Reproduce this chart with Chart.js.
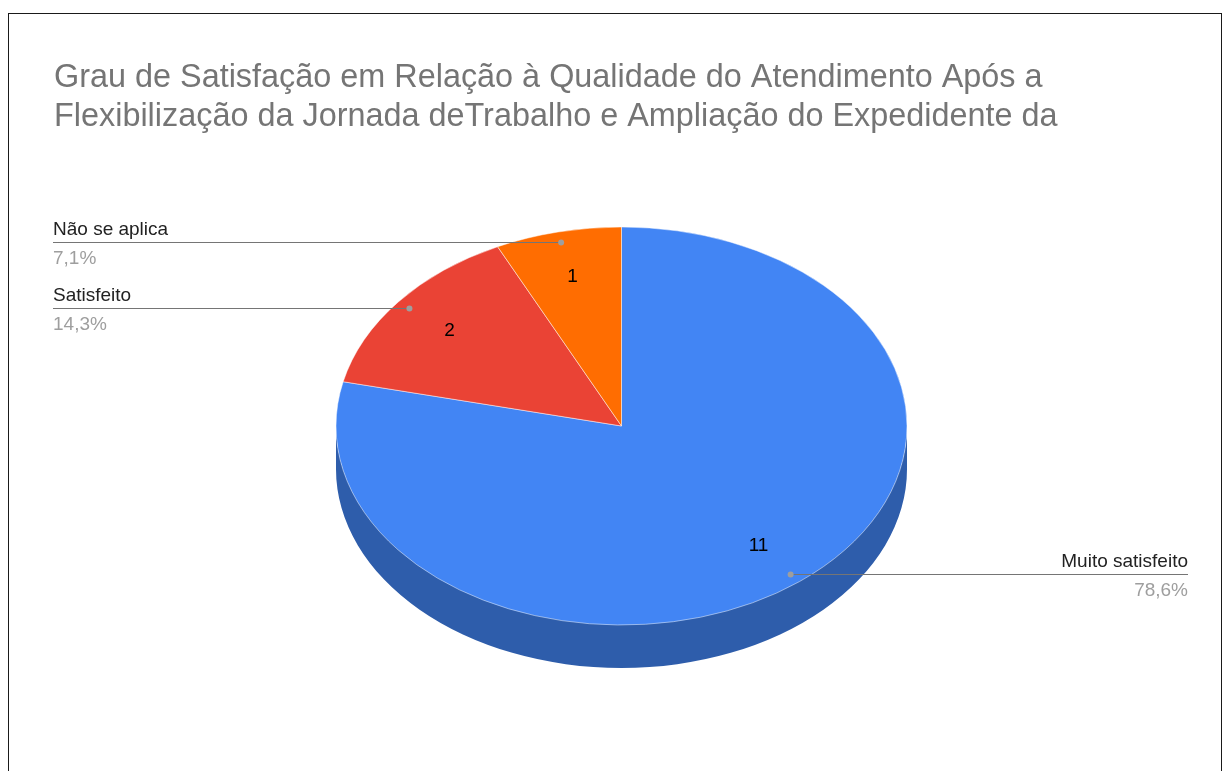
<!DOCTYPE html>
<html lang="pt-BR">
<head>
<meta charset="UTF-8">
<title>Grau de Satisfação</title>
<script src="https://cdn.jsdelivr.net/npm/chart.js"></script>
<style>
    html, body {
        margin: 0;
        padding: 0;
        background: #ffffff;
        overflow: hidden;
    }
    .chart-box {
        position: absolute;
        left: 0;
        top: 0;
        width: 1223px;
        height: 771px;
    }
    .frame {
        position: absolute;
        left: 8px;
        top: 13px;
        width: 1214px;
        height: 800px;
        border: 1px solid #1a1a1a;
        box-sizing: border-box;
        pointer-events: none;
    }
</style>
</head>
<body>
<div class="chart-box"><canvas id="pie"></canvas></div>
<div class="frame"></div>

<script>
const titleLines = [
    'Grau de Satisfação em Relação à Qualidade do Atendimento Após a',
    'Flexibilização da Jornada deTrabalho e Ampliação do Expedidente da'
];
const categories = ['Muito satisfeito', 'Satisfeito', 'Não se aplica'];
const counts = [11, 2, 1];
const sliceColors = ['#4285F4', '#EA4335', '#FF6D01'];

const FONT = '"Liberation Sans", Arial, sans-serif';
// where the squashed pie sits on the page
const pie = { cx: 621.5, cy: 426, rx: 285.5, ry: 199, depth: 43 };

function shade(hex, f) {
    const n = parseInt(hex.slice(1), 16);
    const r = Math.round(((n >> 16) & 255) * f);
    const g = Math.round(((n >> 8) & 255) * f);
    const b = Math.round((n & 255) * f);
    return `rgb(${r}, ${g}, ${b})`;
}

const pie3d = {
    id: 'pie3d',
    beforeDatasetsDraw(chart) {
        const ctx = chart.ctx;
        const arcs = chart.getDatasetMeta(0).data;

        // outer wall, only the part facing the viewer (angles 0..PI)
        arcs.forEach((arc, i) => {
            const { startAngle, endAngle } = arc.getProps(['startAngle', 'endAngle'], true);
            for (let k = -1; k <= 1; k++) {
                const lo = Math.max(startAngle, 2 * Math.PI * k);
                const hi = Math.min(endAngle, 2 * Math.PI * k + Math.PI);
                if (hi <= lo) continue;
                ctx.beginPath();
                ctx.ellipse(pie.cx, pie.cy - 1, pie.rx, pie.ry, 0, lo, hi);
                ctx.ellipse(pie.cx, pie.cy + pie.depth, pie.rx, pie.ry, 0, hi, lo, true);
                ctx.closePath();
                ctx.fillStyle = shade(sliceColors[i], 0.7);
                ctx.fill();
            }
        });

        // squash the circle Chart.js laid out into the top face
        const { x, y, outerRadius } = arcs[0].getProps(['x', 'y', 'outerRadius'], true);
        ctx.save();
        ctx.translate(pie.cx, pie.cy);
        ctx.scale(pie.rx / outerRadius, pie.ry / outerRadius);
        ctx.translate(-x, -y);
    },
    afterDatasetsDraw(chart) {
        chart.ctx.restore();
    },
    afterDraw(chart) {
        const ctx = chart.ctx;
        const arcs = chart.getDatasetMeta(0).data;
        const total = counts.reduce((a, b) => a + b, 0);

        ctx.save();
        arcs.forEach((arc, i) => {
            const { startAngle, endAngle } = arc.getProps(['startAngle', 'endAngle'], true);
            const mid = (startAngle + endAngle) / 2;
            const c = Math.cos(mid), s = Math.sin(mid);

            // count inside the slice
            ctx.font = `19px ${FONT}`;
            ctx.fillStyle = '#000000';
            ctx.textAlign = 'center';
            ctx.textBaseline = 'middle';
            ctx.fillText(String(counts[i]), pie.cx + pie.rx * 0.77 * c, pie.cy + pie.ry * 0.77 * s);

            // leader line + label
            const dx = pie.cx + pie.rx * 0.95 * c;
            const dy = Math.round(pie.cy + pie.ry * 0.95 * s) + 0.5;
            const left = c < 0;
            const tx = left ? 53 : 1188;

            ctx.strokeStyle = '#757575';
            ctx.lineWidth = 1;
            ctx.beginPath();
            ctx.moveTo(tx, dy);
            ctx.lineTo(dx, dy);
            ctx.stroke();

            ctx.fillStyle = '#9e9e9e';
            ctx.beginPath();
            ctx.arc(dx, dy, 3, 0, Math.PI * 2);
            ctx.fill();

            const pct = (counts[i] / total * 100).toFixed(1).replace('.', ',') + '%';
            ctx.textAlign = left ? 'left' : 'right';
            ctx.textBaseline = 'alphabetic';
            ctx.fillStyle = '#222222';
            ctx.fillText(categories[i], tx, dy - 8);
            ctx.fillStyle = '#9e9e9e';
            ctx.fillText(pct, tx, dy + 21);
        });
        ctx.restore();
    }
};

new Chart(document.getElementById('pie').getContext('2d'), {
    type: 'pie',
    data: {
        labels: categories,
        datasets: [{
            data: counts,
            backgroundColor: sliceColors,
            borderColor: '#ffffff',
            borderWidth: 0.6,
            clip: false
        }]
    },
    options: {
        responsive: true,
        maintainAspectRatio: false,
        animation: false,
        events: [],
        layout: { padding: { left: 54, right: 20, top: 0, bottom: 20 } },
        plugins: {
            legend: { display: false },
            tooltip: { enabled: false },
            title: {
                display: true,
                text: titleLines,
                align: 'start',
                color: '#757575',
                font: { family: FONT, size: 32.4, weight: 'normal', lineHeight: 1.2 },
                padding: { top: 59, bottom: 10 }
            }
        }
    },
    plugins: [pie3d]
});
</script>
</body>
</html>
